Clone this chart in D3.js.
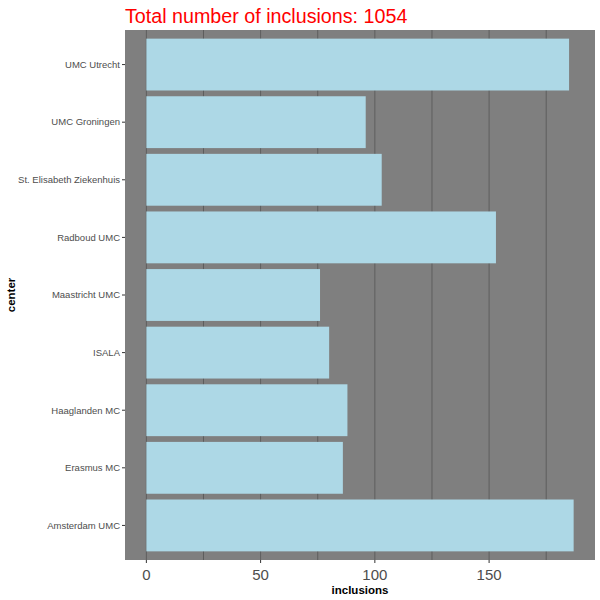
<!DOCTYPE html>
<html><head><meta charset="utf-8">
<script src="https://d3js.org/d3.v7.min.js"></script>
<style>body{margin:0;background:#fff}</style>
</head><body>
<script>
const centers = ["Amsterdam UMC","Erasmus MC","Haaglanden MC","ISALA","Maastricht UMC","Radboud UMC","St. Elisabeth Ziekenhuis","UMC Groningen","UMC Utrecht"];
const inclusions = [187,86,88,80,76,153,103,96,185];
const xTicks = [0,50,100,150];
const gridTicks = [0,25,50,75,100,125,150,175];
const title = "Total number of inclusions: 1054";

(function(){
const W=600,H=600;
const pL=125,pR=595,pT=30,pB=560;
const svg=d3.select("body").append("svg").attr("width",W).attr("height",H);
const maxV=d3.max(inclusions);
const pad=maxV*0.05;
const x=d3.scaleLinear().domain([-pad,maxV+pad]).range([pL,pR]);
const n=centers.length;
const yPos=d3.scaleLinear().domain([0.4,n+0.6]).range([pB,pT]);
const unit=(pB-pT)/(n+0.2);

svg.append("rect").attr("x",pL).attr("y",pT).attr("width",pR-pL).attr("height",pB-pT).attr("fill","#7f7f7f");
svg.selectAll(".grid").data(gridTicks).enter().append("line")
  .attr("x1",d=>x(d)).attr("x2",d=>x(d)).attr("y1",pT).attr("y2",pB)
  .attr("stroke","#5e5e5e").attr("stroke-width",1);

svg.selectAll(".bar").data(centers).enter().append("rect")
  .attr("x",x(0)).attr("width",(d,i)=>x(inclusions[i])-x(0))
  .attr("y",(d,i)=>yPos(i+1)-unit*0.45).attr("height",unit*0.9)
  .attr("fill","#add8e6");

const yg=svg.append("g");
centers.forEach((c,i)=>{
  const yy=yPos(i+1);
  yg.append("line").attr("x1",pL-3).attr("x2",pL).attr("y1",yy).attr("y2",yy).attr("stroke","#333").attr("stroke-width",1);
  yg.append("text").attr("x",pL-5).attr("y",yy).attr("dy","0.35em").attr("text-anchor","end")
    .attr("font-family","Liberation Sans, Arial, sans-serif").attr("font-size",9.5).attr("fill","#4d4d4d").text(c);
});
const xg=svg.append("g");
xTicks.forEach(t=>{
  xg.append("line").attr("x1",x(t)).attr("x2",x(t)).attr("y1",pB).attr("y2",pB+3).attr("stroke","#333");
  xg.append("text").attr("x",x(t)).attr("y",580).attr("text-anchor","middle")
    .attr("font-family","Liberation Sans, Arial, sans-serif").attr("font-size",15).attr("fill","#4d4d4d").text(t);
});
svg.append("text").attr("x",(pL+pR)/2).attr("y",594).attr("text-anchor","middle")
  .attr("font-family","Liberation Sans, Arial, sans-serif").attr("font-size",11.5).attr("font-weight","bold").attr("fill","#000").text("inclusions");
svg.append("text").attr("transform",`translate(15,${(pT+pB)/2}) rotate(-90)`).attr("text-anchor","middle")
  .attr("font-family","Liberation Sans, Arial, sans-serif").attr("font-size",11.5).attr("font-weight","bold").attr("fill","#000").text("center");
svg.append("text").attr("x",pL).attr("y",23).attr("font-family","Liberation Sans, Arial, sans-serif").attr("font-size",19.7).attr("fill","#ff0000").text(title);
})();
</script>
</body></html>
